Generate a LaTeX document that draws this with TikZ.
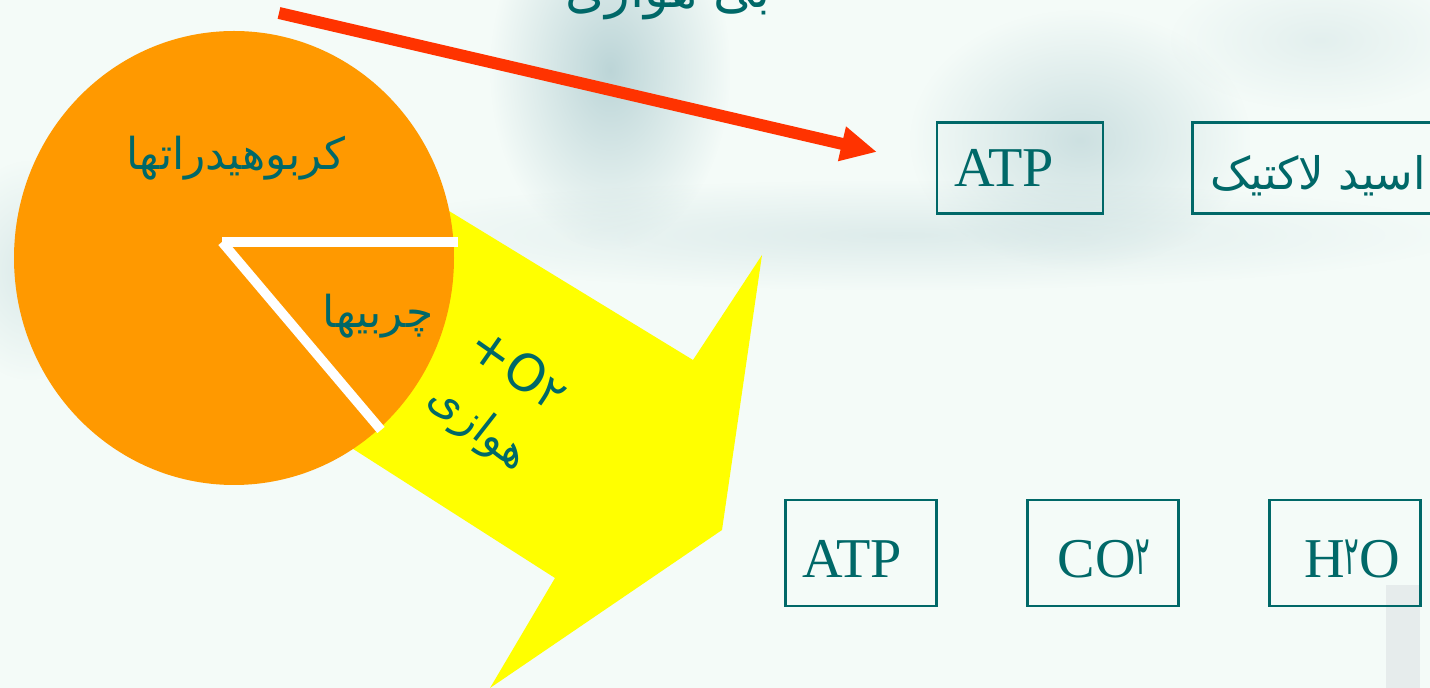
\documentclass[tikz,border=0pt]{standalone}
\usepackage{fontspec}
\setmainfont{Liberation Serif}
\newfontfamily\arabicfont[Script=Arabic]{DejaVu Sans}
\TeXXeTstate=1
\usetikzlibrary{arrows.meta,fadings}
\definecolor{bgmint}{HTML}{F4FBF8}
\definecolor{blobc}{HTML}{B6D1D4}
\definecolor{tealtext}{HTML}{006868}
\definecolor{pieorange}{HTML}{FF9900}
\definecolor{arrowyellow}{HTML}{FFFF00}
\definecolor{arrowred}{HTML}{FF3300}
\definecolor{stripgray}{HTML}{E6ECEC}
\newcommand\fadigittwo{\raisebox{2pt}{\scalebox{0.5}[1]{\arabicfont\fontsize{31}{34}\selectfont ۲}}}
\tikzfading[name=softblob, inner color=transparent!10, outer color=transparent!100]
\begin{document}
\begin{tikzpicture}[x=0.02cm,y=-0.02cm,
  boxwide/.style={draw=tealtext, line width=1.3pt, minimum width=3.32cm, minimum height=1.82cm, inner sep=0pt},
  boxsq/.style={draw=tealtext, line width=1.3pt, minimum width=3.02cm, minimum height=2.12cm, inner sep=0pt},
  latinlbl/.style={text=tealtext, font=\fontsize{32}{36}\selectfont, inner sep=0pt, anchor=base},
  farsilbl/.style={text=tealtext, font=\arabicfont\fontsize{25}{29}\selectfont, inner sep=0pt, anchor=base},
  blob/.style={fill=blobc, path fading=softblob}]
\useasboundingbox (0,0) rectangle (1430,688);
\clip (0,0) rectangle (1430,688);
% background
\fill[bgmint] (0,0) rectangle (1430,688);
\fill[blob] (610,70) ellipse (120 and 180);
\fill[blob, opacity=0.7] (1080,140) ellipse (170 and 130);
\fill[blob, opacity=0.4] (900,235) ellipse (560 and 55);
\fill[blob, opacity=0.45] (30,270) ellipse (80 and 110);
\fill[blob, opacity=0.3] (1320,40) ellipse (150 and 70);
\fill[stripgray] (1386,585) rectangle (1420,688);
% title (cut off at top)
\node[farsilbl, font=\arabicfont\fontsize{29}{33}\selectfont] (title) at (668,8) {\beginR بی هوازی\endR};
% yellow block arrow
\fill[arrowyellow] (300,120) -- (693,360) -- (762,255) -- (722,530) -- (490,688) -- (555,578) -- (250,383) -- cycle;
% pie
\fill[pieorange] (234,258) ellipse (220 and 227);
\coordinate (pc) at (222,242);
\coordinate (pe1) at (458,242);
\coordinate (pe2) at (381,430);
\draw[white, line width=0.19cm] (pc) -- (pe1);
\draw[white, line width=0.19cm] (pc) -- (pe2);
\node[farsilbl] (carb) at (236,170) {\beginR کربوهیدراتها\endR};
\node[farsilbl] (fat) at (378,328) {\beginR چربیها\endR};
% rotated labels on yellow arrow
\node[text=tealtext, font=\arabicfont\fontsize{29}{30}\selectfont, rotate=-35, inner sep=0pt] (oxy) at (519,368) {+O{\fontsize{26}{28}\selectfont ۲}};
\node[text=tealtext, font=\arabicfont\fontsize{25}{26}\selectfont, rotate=-38, inner sep=0pt] (aer) at (478,428) {\beginR هوازی\endR};
% red arrow
\coordinate (rs) at (279,13);
\coordinate (re) at (877,152);
\draw[arrowred, line width=0.24cm, -{Triangle[length=0.72cm, width=0.66cm]}] (rs) -- (re);
% boxes
\node[boxwide] (b1) at (1020,168) {};
\node[boxwide, minimum width=5.34cm] (b2) at (1326,168) {};
\node[boxsq] (b3) at (861,553) {};
\node[boxsq] (b4) at (1103,553) {};
\node[boxsq] (b5) at (1345,553) {};
\node[latinlbl] (t1) at (1004,187) {ATP};
\node[farsilbl, font=\arabicfont\fontsize{25.5}{30}\selectfont] (t2) at (1318,190) {\beginR اسید لاکتیک\endR};
\node[latinlbl] (t3) at (852,578) {ATP};
\node[latinlbl] (t4) at (1104,578) {CO\fadigittwo};
\node[latinlbl] (t5) at (1352,578) {H\fadigittwo O};
\end{tikzpicture}
\end{document}
